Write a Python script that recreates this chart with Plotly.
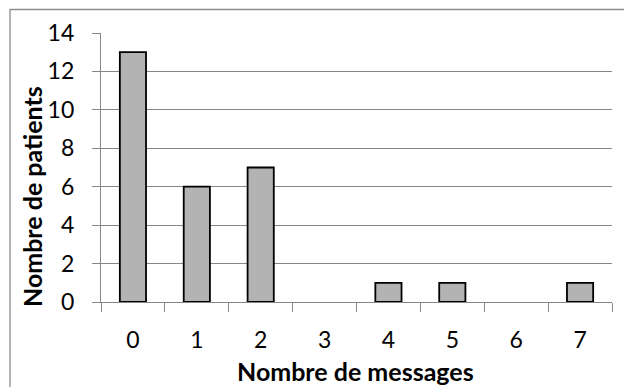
import plotly.graph_objects as go

# Distribution of patients by number of messages
messages = ["0", "1", "2", "3", "4", "5", "6", "7"]
patients = [13, 6, 7, 0, 1, 1, 0, 1]
y_ticks = [0, 2, 4, 6, 8, 10, 12, 14]

FONT = "Lato"
GRID = "#868686"

# empty categories get no outline
outline_widths = [1.8 if v > 0 else 0 for v in patients]

fig = go.Figure(
    go.Bar(
        x=messages,
        y=patients,
        width=0.41,
        marker=dict(color="#b3b3b3", line=dict(color="#000000", width=outline_widths)),
    )
)

fig.update_layout(
    width=624,
    height=387,
    margin=dict(l=101, r=12, t=33, b=85),
    paper_bgcolor="white",
    plot_bgcolor="white",
    showlegend=False,
    font=dict(family=FONT, size=23, color="#000000"),
)

fig.update_xaxes(
    type="category",
    tickson="boundaries",
    ticks="outside",
    ticklen=9,
    tickwidth=1.3,
    tickcolor=GRID,
    showline=True,
    linecolor=GRID,
    linewidth=1.3,
    showgrid=False,
    ticklabelstandoff=17,
    tickfont=dict(family=FONT, size=23),
)

fig.update_yaxes(
    range=[0, 14],
    tickvals=y_ticks,
    ticks="outside",
    ticklen=8,
    tickwidth=1.3,
    tickcolor=GRID,
    showline=True,
    linecolor=GRID,
    linewidth=1.3,
    showgrid=True,
    gridcolor=GRID,
    gridwidth=1.3,
    zeroline=False,
    ticklabelstandoff=13,
    tickfont=dict(family=FONT, size=23),
)

# Axis titles
fig.add_annotation(
    text="<b>Nombre de messages</b>",
    xref="paper", yref="paper",
    x=(355 - 101) / 511, y=(302 - 371) / 269,
    xanchor="center", yanchor="middle",
    showarrow=False,
    font=dict(family=FONT, size=25),
)
fig.add_annotation(
    text="<b>Nombre de patients</b>",
    xref="paper", yref="paper",
    x=(32 - 101) / 511, y=(302 - 197) / 269,
    xanchor="center", yanchor="middle",
    textangle=-90,
    showarrow=False,
    font=dict(family=FONT, size=25),
)

# Chart frame
fig.add_shape(
    type="rect",
    xref="paper", yref="paper",
    x0=(10 - 101) / 511, x1=(640 - 101) / 511,
    y0=(302 - 400) / 269, y1=(302 - 9.5) / 269,
    line=dict(color="#8c8c8c", width=1.3),
    layer="below",
)

fig.write_html("out.html")
